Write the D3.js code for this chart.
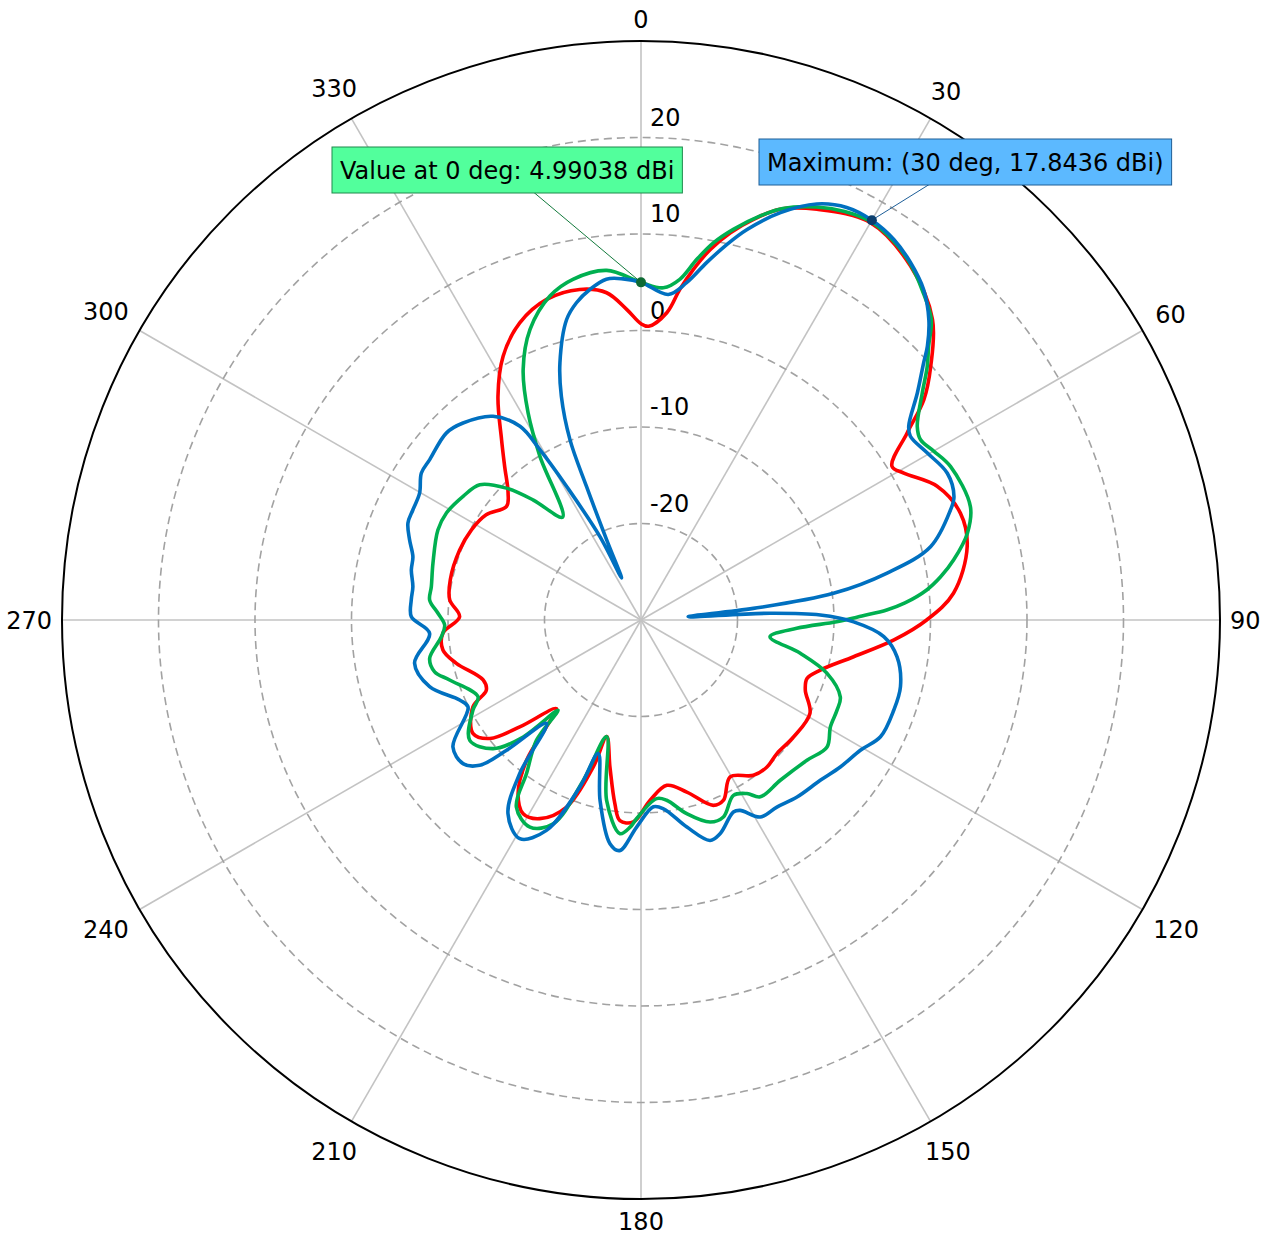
<!DOCTYPE html>
<html><head><meta charset="utf-8">
<script src="https://cdn.jsdelivr.net/npm/d3@7/dist/d3.min.js"></script>
<style>
body{margin:0;background:#fff}
svg text{font-family:"DejaVu Sans",sans-serif;fill:#000}
</style>
</head><body>
<svg id="chart" width="1270" height="1241"></svg>
<script>
// ---------- data ----------
const angleTicks = [0,30,60,90,120,150,180,210,240,270,300,330];
const ringTicks = [-20,-10,0,10,20];
const radialDomain = [-30,30];

const redAngles = [0,1.5,4.8,6.7,8.5,10.6,13,15.7,18.7,23.2,30,37.3,44.1,48.8,52.1,54.9,58.5,60.8,65.7,71.5,77.3,85.1,90,94.5,99.8,105.6,109.4,113.1,118.9,127.5,134.5,139.4,144.1,150.4,155.4,158.7,165.1,171.1,177.1,182.2,186,188.1,191.9,196.4,198,201.7,207,211.3,215.3,219.2,221.5,223.7,228.6,231.9,235.9,242.7,245.6,249.2,256.8,261.4,266.2,271,276,282,291,298,304.2,310.2,313.7,318.4,322.3,327.4,332.4,337.8,343.6,349.5,354,357.4];
const redValues = [0.7,0.45,1.95,4.5,6.74,9.07,11.19,13.13,14.94,16.3,17.55,16.1,13.4,9.9,7.15,3.71,0.5,1.2,3.67,4.9,4.65,2.5,-0.4,-3.7,-7.64,-10.7,-11.76,-11.49,-10.0,-10.08,-10.25,-9.94,-10.13,-11.3,-9.46,-9.38,-11.55,-12.66,-11.3,-9.05,-9.1,-10.78,-14.4,-17.4,-13.99,-9.14,-6.9,-6.5,-7.96,-11.24,-15.2,-17.3,-13.25,-10.1,-8.99,-10.4,-12.4,-12.5,-10.35,-9.24,-9.43,-11.2,-10.07,-9.8,-9.86,-10.1,-10.6,-11.76,-10.95,-8.72,-6.37,-2.49,0.84,3.26,4.63,4.84,4.1,2.2];

const greenAngles = [0,3.85,6.5,8.8,10.9,13.3,16.5,19,23,26.5,30,33.6,37,40.5,44,46.4,48.5,51.1,55,57.2,60,63.6,71,75.1,79.1,81.8,84,86.3,87.67,88.96,90.5,93.05,97.4,101.8,106,111.1,114.7,119.4,124.3,130.2,139,146,148.6,152.2,157.3,161.1,166.7,171.9,175,181.3,183,185.6,190.8,196.4,199.8,203.3,208.2,213.7,216.7,221,222.6,225.2,229,234.9,241.8,244.8,252.6,255.9,259.7,265.2,268.5,271.9,275.4,279,285.3,293.9,298.8,304.8,310,314.4,318.1,322.7,328.3,331.4,334.8,339.1,344.3,348.7,354.4];
const greenValues = [4.99,4.5,5.53,7.82,9.82,11.6,13.7,15.1,16.5,17.3,17.65,17.2,16.3,14.9,13.3,11.16,9.6,7.45,4.95,4.47,5.02,5.8,6.1,5.0,3.0,1.37,-0.23,-2.59,-4.52,-7.1,-9.72,-13.84,-16.52,-13.14,-9.94,-7.86,-7.64,-7.47,-6.66,-7.48,-8.0,-7.9,-8.93,-9.46,-7.87,-7.87,-9.38,-11.13,-11.42,-9.4,-8.5,-7.75,-10.98,-17.4,-12.34,-7.02,-5.65,-6.72,-10.15,-13.5,-17.3,-12.8,-9.69,-8.31,-10.24,-11.33,-9.22,-7.95,-7.74,-9.24,-9.65,-8.95,-8.0,-8.0,-7.65,-6.98,-6.99,-7.55,-8.19,-10.47,-13.3,-16.6,-10.07,-5.56,-1.32,2.23,4.87,6.0,6.4];

const blueAngles = [0,4.8,7.7,10.4,12.9,15.2,18.9,22.9,26.5,30,33.6,37,40.5,43.8,46.3,47.7,50.6,54.1,55.7,59.7,64.4,68.5,70.5,75.8,79.2,82.1,84.1,86,87,88.4,90.5,93.9,98.2,104.4,109.6,116,120.7,126.4,131.8,138.6,144,148.8,152.5,154.3,159.7,162.6,167.5,173.2,176.2,181.2,185.3,187.9,192.8,197.8,200.1,204.2,209,214.5,218.3,222.4,225.9,228,231.1,236,243.3,246.2,252.5,259.2,266.4,270.8,275,278.3,282.3,285.5,289.1,292.6,295.8,299.8,303.8,307.2,313.9,317.9,324,328,329.3,330.9,333.8,335.2,336.8,337.8,338.5,340.4,342.5,346.1,348.5,351.2,354.2,357];
const blueValues = [5.0,3.85,5.27,7.65,9.94,11.94,14.62,16.8,17.77,17.84,17.35,16.4,15.08,13.1,11.05,9.6,7.06,4.25,3.79,4.34,5.2,4.86,4.0,0.95,-4.04,-9.86,-18.3,-25.1,-16.6,-11.41,-7.96,-4.78,-3.19,-2.24,-2.19,-2.39,-3.56,-4.34,-5.08,-5.55,-6.04,-6.13,-7.76,-7.92,-6.38,-6.06,-8.02,-10.3,-10.6,-8.54,-6.0,-6.6,-10.84,-15.47,-11.57,-6.1,-4.09,-5.66,-9.73,-15.48,-10.6,-7.5,-6.3,-6.49,-9.94,-9.46,-7.03,-6.11,-8.05,-6.2,-6.1,-6.11,-5.64,-5.47,-4.62,-3.84,-3.75,-3.56,-2.61,-2.51,-2.03,-2.49,-3.91,-6.33,-9.47,-14.2,-20.4,-25.2,-20.97,-15.05,-9.91,-5.4,-2.06,2.08,3.55,4.66,5.5,5.4];

const seriesNames = ["red","green","blue"];
const seriesColors = ["#ff0000","#00b050","#0070c0"];

const markerAngle0 = 0, markerValue0 = 4.99038;
const markerAngleMax = 30, markerValueMax = 17.8436;
const label0 = "Value at 0 deg: 4.99038 dBi";
const labelMax = "Maximum: (30 deg, 17.8436 dBi)";

// ---------- drawing ----------
const cx = 641, cy = 620, R = 579;
const svg = d3.select("#chart");
const g = svg.append("g").attr("transform", `translate(${cx},${cy})`);
const r = d3.scaleLinear().domain(radialDomain).range([0, R]);
const rad = d => d * Math.PI / 180;
const px = (a, v) => r(v) * Math.sin(rad(a));
const py = (a, v) => -r(v) * Math.cos(rad(a));

// spokes
g.selectAll("line.spoke").data(angleTicks).join("line")
  .attr("x1", 0).attr("y1", 0)
  .attr("x2", a => R * Math.sin(rad(a))).attr("y2", a => -R * Math.cos(rad(a)))
  .attr("stroke", "#c3c3c3").attr("stroke-width", 1.6);

// dashed rings
g.selectAll("circle.ring").data(ringTicks).join("circle")
  .attr("r", d => r(d)).attr("fill", "none")
  .attr("stroke", "#a2a2a2").attr("stroke-width", 1.6).attr("stroke-dasharray", "8,5");

// outer circle
g.append("circle").attr("r", R).attr("fill", "none").attr("stroke", "#000").attr("stroke-width", 2);

// ring labels
g.selectAll("text.rl").data(ringTicks).join("text")
  .attr("x", 9).attr("y", d => -r(d) - 12)
  .style("font-size", "24px").text(d => d);

// angle labels
const fs = 24;
g.selectAll("text.al").data(angleTicks).join("text")
  .style("font-size", fs + "px").attr("text-anchor", "middle")
  .text(d => d)
  .each(function(a) {
    const bb = this.getBBox();
    const hw = bb.width / 2 - 3, hh = 0.365 * fs;
    const s = Math.abs(Math.sin(rad(a))), c = Math.abs(Math.cos(rad(a)));
    const dist = R + 13 + hw * s + hh * c + 10 * s * c;
    d3.select(this).attr("x", dist * Math.sin(rad(a))).attr("y", -dist * Math.cos(rad(a)) + hh);
  });

// curves
const line = d3.lineRadial()
  .angle(d => rad(d[0])).radius(d => r(d[1]))
  .curve(d3.curveCatmullRomClosed.alpha(0.5));
const seriesData = [
  d3.zip(redAngles, redValues),
  d3.zip(greenAngles, greenValues),
  d3.zip(blueAngles, blueValues)
];
g.selectAll("path.series").data(seriesData).join("path")
  .attr("d", d => line(d)).attr("fill", "none")
  .attr("stroke", (d, i) => seriesColors[i]).attr("stroke-width", 3.6)
  .attr("stroke-linejoin", "round");

// annotations
function annotate(a, v, text, bx, by, fill, border, lineColor, dotColor) {
  const ag = svg.append("g");
  const t = ag.append("text").attr("x", bx + 8).attr("y", by + 23 + 0.365 * 24)
    .style("font-size", "24px").text(text);
  const w = t.node().getBBox().width + 16, h = 46;
  const dx = cx + px(a, v), dy = cy + py(a, v);
  ag.insert("line", "text").attr("x1", bx + w / 2).attr("y1", by + h / 2).attr("x2", dx).attr("y2", dy)
    .attr("stroke", lineColor).attr("stroke-width", 1);
  ag.insert("rect", "text").attr("x", bx).attr("y", by).attr("width", w).attr("height", h)
    .attr("fill", fill).attr("stroke", border).attr("stroke-width", 1);
  ag.append("circle").attr("cx", dx).attr("cy", dy).attr("r", 5).attr("fill", dotColor);
}
annotate(markerAngle0, markerValue0, label0, 332, 147, "#52ff9c", "#1f8a4c", "#137a3c", "#0e6a33");
annotate(markerAngleMax, markerValueMax, labelMax, 759, 139, "#5cb9ff", "#1f5e96", "#1d5e98", "#0b3f6e");
</script>
</body></html>
